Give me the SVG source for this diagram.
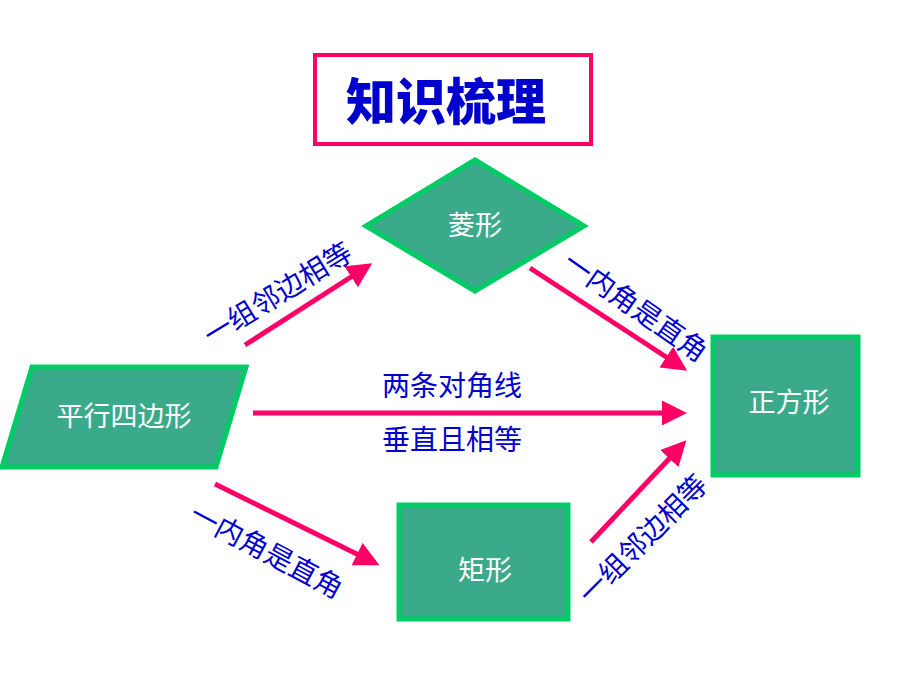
<svg xmlns="http://www.w3.org/2000/svg" width="920" height="690" viewBox="0 0 920 690">
<style>
.n{fill:#3BAA8A;stroke:#00CC66;stroke-width:5}
.nt{fill:#fff;font-family:"Noto Sans CJK SC",sans-serif;font-size:27px;text-anchor:middle}
.lb{fill:#0000CC;font-family:"Noto Sans CJK SC",sans-serif;font-size:28px;text-anchor:middle}
.c{stroke:#FF0066;stroke-width:5;fill:none;marker-end:url(#a)}
</style>
<defs><marker id="a" markerWidth="5" markerHeight="5" refX="4" refY="2.5" orient="auto" markerUnits="strokeWidth"><path d="M0,0L5,2.5L0,5z" fill="#FF0066"/></marker></defs>
<rect width="920" height="690" fill="#fff"/>
<g id="title"><rect x="315" y="55" width="276" height="89" fill="#fff" stroke="#FF0066" stroke-width="4"/>
<text x="446" y="120" fill="#0000CC" font-family="'Noto Sans CJK SC',sans-serif" font-size="50" font-weight="900" text-anchor="middle">知识梳理</text></g>
<g id="rhombus"><polygon class="n" points="475,160 584,226 475,291 366,226"/><text class="nt" x="475" y="235">菱形</text></g>
<g id="parallelogram"><polygon class="n" points="32,367 246,367 216,467 2,467"/><text class="nt" x="124" y="426">平行四边形</text></g>
<g id="square"><rect class="n" x="713" y="337" width="145" height="138"/><text class="nt" x="789" y="412">正方形</text></g>
<g id="rectangle"><rect class="n" x="399" y="505" width="169" height="114"/><text class="nt" x="485" y="580">矩形</text></g>
<g id="connectors">
<line class="c" x1="245" y1="345" x2="368" y2="266"/>
<line class="c" x1="530" y1="268" x2="683" y2="368"/>
<line class="c" x1="253" y1="413" x2="682" y2="413"/>
<line class="c" x1="215" y1="484" x2="375" y2="563"/>
<line class="c" x1="591" y1="542" x2="683" y2="444"/>
</g>
<g id="labels">
<text class="lb" transform="translate(283,302) rotate(-31.5)">一组邻边相等</text>
<text class="lb" transform="translate(630,315) rotate(35)">一内角是直角</text>
<text class="lb" x="452" y="396">两条对角线</text>
<text class="lb" x="452" y="450">垂直且相等</text>
<text class="lb" transform="translate(262,560) rotate(28)">一内角是直角</text>
<text class="lb" transform="translate(650,546) rotate(-45)">一组邻边相等</text>
</g>
</svg>
